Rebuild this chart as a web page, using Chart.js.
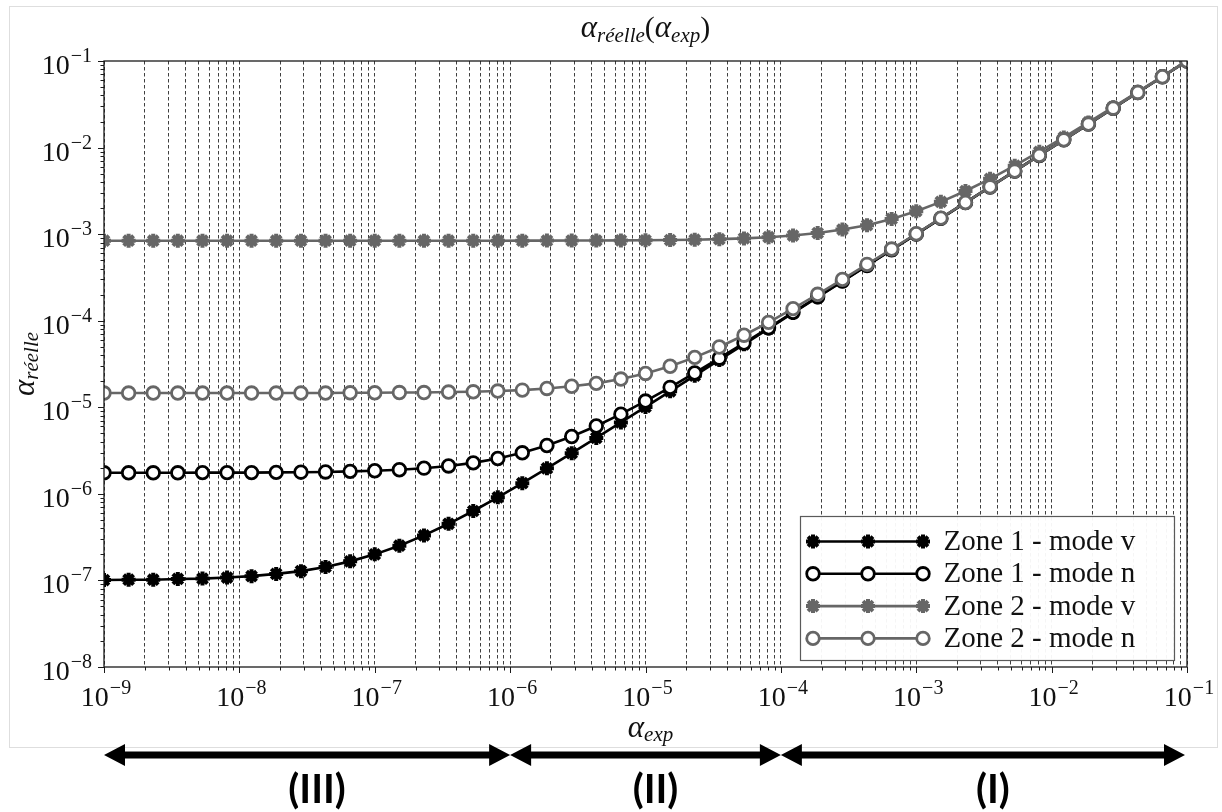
<!DOCTYPE html>
<html>
<head>
<meta charset="utf-8">
<script src="https://cdn.jsdelivr.net/npm/chart.js@4.4.0/dist/chart.umd.min.js"></script>
<style>
  html, body { margin: 0; padding: 0; background: #fff; }
  #wrap { width: 1222px; height: 812px; }
</style>
</head>
<body>
<div id="wrap"><canvas id="alphaChart" width="1222" height="812"></canvas></div>
<script>
// alpha_exp (x) - log spaced sample points
const alphaExp = [
  1e-9, 1.52e-9, 2.31e-9, 3.51e-9, 5.34e-9, 8.11e-9,
  1.23e-8, 1.87e-8, 2.85e-8, 4.33e-8, 6.58e-8,
  1e-7, 1.52e-7, 2.31e-7, 3.51e-7, 5.34e-7, 8.11e-7,
  1.23e-6, 1.87e-6, 2.85e-6, 4.33e-6, 6.58e-6,
  1e-5, 1.52e-5, 2.31e-5, 3.51e-5, 5.34e-5, 8.11e-5,
  1.23e-4, 1.87e-4, 2.85e-4, 4.33e-4, 6.58e-4,
  1e-3, 1.52e-3, 2.31e-3, 3.51e-3, 5.34e-3, 8.11e-3,
  1.23e-2, 1.87e-2, 2.85e-2, 4.33e-2, 6.58e-2,
  1e-1
];

// alpha_reelle for each curve
const zone1ModeV = [
  1.01e-7, 1.02e-7, 1.02e-7, 1.04e-7, 1.05e-7, 1.08e-7,
  1.12e-7, 1.19e-7, 1.28e-7, 1.43e-7, 1.66e-7,
  2.0e-7, 2.52e-7, 3.31e-7, 4.51e-7, 6.34e-7, 9.11e-7,
  1.33e-6, 1.97e-6, 2.95e-6, 4.43e-6, 6.68e-6,
  1.01e-5, 1.53e-5, 2.32e-5, 3.52e-5, 5.34e-5, 8.11e-5,
  1.23e-4, 1.87e-4, 2.85e-4, 4.33e-4, 6.58e-4,
  1e-3, 1.52e-3, 2.31e-3, 3.51e-3, 5.34e-3, 8.11e-3,
  1.23e-2, 1.87e-2, 2.85e-2, 4.33e-2, 6.58e-2,
  1e-1
];
const zone1ModeN = [
  1.75e-6, 1.75e-6, 1.75e-6, 1.75e-6, 1.76e-6, 1.76e-6,
  1.76e-6, 1.77e-6, 1.78e-6, 1.79e-6, 1.82e-6,
  1.85e-6, 1.90e-6, 1.98e-6, 2.10e-6, 2.28e-6, 2.56e-6,
  2.98e-6, 3.62e-6, 4.60e-6, 6.08e-6, 8.33e-6,
  1.18e-5, 1.70e-5, 2.49e-5, 3.69e-5, 5.52e-5, 8.29e-5,
  1.25e-4, 1.89e-4, 2.87e-4, 4.35e-4, 6.60e-4,
  1.00e-3, 1.52e-3, 2.31e-3, 3.51e-3, 5.34e-3, 8.11e-3,
  1.23e-2, 1.87e-2, 2.85e-2, 4.33e-2, 6.58e-2,
  1e-1
];
const zone2ModeV = [
  8.4e-4, 8.4e-4, 8.4e-4, 8.4e-4, 8.4e-4, 8.4e-4,
  8.4e-4, 8.4e-4, 8.4e-4, 8.4e-4, 8.4e-4,
  8.4e-4, 8.4e-4, 8.4e-4, 8.4e-4, 8.4e-4, 8.4e-4,
  8.41e-4, 8.42e-4, 8.43e-4, 8.44e-4, 8.47e-4,
  8.50e-4, 8.55e-4, 8.63e-4, 8.75e-4, 8.93e-4, 9.21e-4,
  9.63e-4, 1.03e-3, 1.13e-3, 1.27e-3, 1.50e-3,
  1.84e-3, 2.36e-3, 3.15e-3, 4.35e-3, 6.18e-3, 8.95e-3,
  1.31e-2, 1.95e-2, 2.93e-2, 4.41e-2, 6.66e-2,
  1.01e-1
];
const zone2ModeN = [
  1.46e-5, 1.46e-5, 1.46e-5, 1.46e-5, 1.46e-5, 1.46e-5,
  1.46e-5, 1.46e-5, 1.46e-5, 1.46e-5, 1.47e-5,
  1.47e-5, 1.48e-5, 1.48e-5, 1.50e-5, 1.51e-5, 1.54e-5,
  1.58e-5, 1.65e-5, 1.75e-5, 1.89e-5, 2.12e-5,
  2.46e-5, 2.98e-5, 3.77e-5, 4.97e-5, 6.80e-5, 9.57e-5,
  1.38e-4, 2.02e-4, 3.00e-4, 4.48e-4, 6.73e-4,
  1.01e-3, 1.53e-3, 2.32e-3, 3.52e-3, 5.35e-3, 8.12e-3,
  1.23e-2, 1.87e-2, 2.85e-2, 4.33e-2, 6.58e-2,
  1e-1
];

const seriesLabels = ["Zone 1 - mode v", "Zone 1 - mode n", "Zone 2 - mode v", "Zone 2 - mode n"];
const xTickExps = [-9, -8, -7, -6, -5, -4, -3, -2, -1];
const yTickExps = [-8, -7, -6, -5, -4, -3, -2, -1];
const zoneBounds = [1e-9, 1e-6, 1e-4, 1e-1];
const zoneLabels = ["(III)", "(II)", "(I)"];

const BLACK = '#000000';
const GREY = '#666666';
const SERIF = '"Liberation Serif", "DejaVu Serif", serif';

// all 1..9 x 10^n positions, used for dashed grid and minor ticks
function logPositions(exps) {
  const out = [];
  exps.forEach((e, i) => {
    out.push({ value: Math.pow(10, e), major: true });
    if (i < exps.length - 1) {
      for (let m = 2; m <= 9; m++) out.push({ value: m * Math.pow(10, e), major: false });
    }
  });
  return out;
}
const xPositions = logPositions(xTickExps);
const yPositions = logPositions(yTickExps);

function toPoints(ys) {
  return alphaExp.map((x, i) => ({ x: x, y: ys[i] }));
}

function makeDataset(label, ys, color, star, order) {
  return {
    label: label,
    data: toPoints(ys),
    borderColor: color,
    borderWidth: 2.6,
    pointStyle: star ? 'star' : 'circle',
    pointRadius: star ? 7 : 6.3,
    pointBorderWidth: star ? 4 : 2.8,
    pointBorderColor: color,
    pointBackgroundColor: star ? color : '#ffffff',
    tension: 0,
    clip: 0,
    order: order
  };
}

function drawPow10(ctx, exp, x, y, align) {
  const base = '10';
  const sup = '\u2212' + Math.abs(exp);
  ctx.font = '28px ' + SERIF;
  const bw = ctx.measureText(base).width;
  ctx.font = '20px ' + SERIF;
  const sw = ctx.measureText(sup).width;
  const w = bw + 1 + sw;
  const left = align === 'center' ? x - w / 2 : x - w;
  ctx.textAlign = 'left';
  ctx.textBaseline = 'alphabetic';
  ctx.font = '28px ' + SERIF;
  ctx.fillText(base, left, y);
  ctx.font = '20px ' + SERIF;
  ctx.fillText(sup, left + bw + 1, y - 12);
}

// draws a run of text pieces (main / subscript) centred on cx
function drawMath(ctx, parts, cx, y) {
  let total = 0;
  parts.forEach(p => {
    ctx.font = (p.italic ? 'italic ' : '') + p.size + 'px ' + SERIF;
    p.w = ctx.measureText(p.t).width;
    total += p.w;
  });
  let x = cx - total / 2;
  ctx.textAlign = 'left';
  ctx.textBaseline = 'alphabetic';
  parts.forEach(p => {
    ctx.font = (p.italic ? 'italic ' : '') + p.size + 'px ' + SERIF;
    ctx.fillText(p.t, x, y + (p.dy || 0));
    x += p.w;
  });
}

function drawMarker(ctx, ds, x, y) {
  ctx.save();
  ctx.lineWidth = ds.pointBorderWidth;
  ctx.strokeStyle = ds.pointBorderColor;
  ctx.fillStyle = ds.pointBackgroundColor;
  const r = ds.pointRadius;
  ctx.beginPath();
  if (ds.pointStyle === 'star') {
    for (let k = 0; k < 4; k++) {
      const a = k * Math.PI / 4;
      ctx.moveTo(x - r * Math.cos(a), y - r * Math.sin(a));
      ctx.lineTo(x + r * Math.cos(a), y + r * Math.sin(a));
    }
    ctx.stroke();
  } else {
    ctx.arc(x, y, r, 0, Math.PI * 2);
    ctx.fill();
    ctx.stroke();
  }
  ctx.restore();
}

function drawArrow(ctx, x1, x2, y) {
  const head = 21, half = 11;
  ctx.beginPath();
  ctx.lineWidth = 7;
  ctx.moveTo(x1 + head - 2, y);
  ctx.lineTo(x2 - head + 2, y);
  ctx.stroke();
  ctx.beginPath();
  ctx.moveTo(x1, y);
  ctx.lineTo(x1 + head, y - half);
  ctx.lineTo(x1 + head, y + half);
  ctx.closePath();
  ctx.moveTo(x2, y);
  ctx.lineTo(x2 - head, y - half);
  ctx.lineTo(x2 - head, y + half);
  ctx.closePath();
  ctx.fill();
}

const decorPlugin = {
  id: 'decor',
  beforeDraw(chart) {
    const ctx = chart.ctx;
    ctx.save();
    ctx.fillStyle = '#ffffff';
    ctx.fillRect(0, 0, chart.width, chart.height);
    ctx.strokeStyle = '#dedede';
    ctx.lineWidth = 1;
    ctx.strokeRect(9.5, 6.5, 1208, 741);
    ctx.restore();
  },
  afterDraw(chart) {
    const ctx = chart.ctx;
    const area = chart.chartArea;
    const xs = chart.scales.x;
    const ys = chart.scales.y;
    ctx.save();

    // frame
    ctx.strokeStyle = '#1a1a1a';
    ctx.lineWidth = 1.3;
    ctx.strokeRect(area.left, area.top, area.right - area.left, area.bottom - area.top);

    // tick marks
    ctx.lineWidth = 1;
    ctx.beginPath();
    xPositions.forEach(t => {
      const px = Math.round(xs.getPixelForValue(t.value)) + 0.5;
      ctx.moveTo(px, area.bottom);
      ctx.lineTo(px, area.bottom + (t.major ? 6 : 3.5));
    });
    yPositions.forEach(t => {
      const py = Math.round(ys.getPixelForValue(t.value)) + 0.5;
      ctx.moveTo(area.left, py);
      ctx.lineTo(area.left - (t.major ? 6 : 3.5), py);
    });
    ctx.stroke();

    // tick labels
    ctx.fillStyle = '#111';
    xTickExps.forEach(e => {
      drawPow10(ctx, e, xs.getPixelForValue(Math.pow(10, e)) + 2, area.bottom + 39, 'center');
    });
    yTickExps.forEach(e => {
      drawPow10(ctx, e, area.left - 12, ys.getPixelForValue(Math.pow(10, e)) + 13, 'right');
    });

    const cx = (area.left + area.right) / 2;
    // title
    drawMath(ctx, [
      { t: '\u03b1', size: 31, italic: true },
      { t: 'r\u00e9elle', size: 21, italic: true, dy: 5 },
      { t: '(', size: 30 },
      { t: '\u03b1', size: 31, italic: true },
      { t: 'exp', size: 21, italic: true, dy: 5 },
      { t: ')', size: 30 }
    ], cx, 37);
    // x axis title
    drawMath(ctx, [
      { t: '\u03b1', size: 31, italic: true },
      { t: 'exp', size: 21, italic: true, dy: 4 }
    ], cx + 5, area.bottom + 70);
    // y axis title
    ctx.save();
    ctx.translate(21, (area.top + area.bottom) / 2);
    ctx.rotate(-Math.PI / 2);
    drawMath(ctx, [
      { t: '\u03b1', size: 31, italic: true },
      { t: 'r\u00e9elle', size: 21, italic: true, dy: 4 }
    ], 0, 13);
    ctx.restore();

    // legend
    const lg = { x: 800.5, y: 516.5, w: 374, h: 144 };
    ctx.fillStyle = 'rgba(255,255,255,0.95)';
    ctx.fillRect(lg.x, lg.y, lg.w, lg.h);
    ctx.strokeStyle = '#5a5a5a';
    ctx.lineWidth = 1.2;
    ctx.strokeRect(lg.x, lg.y, lg.w, lg.h);
    chart.data.datasets.forEach((ds, i) => {
      const ry = lg.y + 25 + i * 32.3;
      ctx.strokeStyle = ds.borderColor;
      ctx.lineWidth = ds.borderWidth;
      ctx.beginPath();
      ctx.moveTo(lg.x + 12.5, ry);
      ctx.lineTo(lg.x + 122.5, ry);
      ctx.stroke();
      [12.5, 67.5, 122.5].forEach(dx => drawMarker(ctx, ds, lg.x + dx, ry));
      ctx.fillStyle = '#111';
      ctx.font = '29px ' + SERIF;
      ctx.textAlign = 'left';
      ctx.textBaseline = 'middle';
      ctx.fillText(ds.label, lg.x + 143, ry + 1);
    });

    // zone arrows
    ctx.fillStyle = '#000';
    ctx.strokeStyle = '#000';
    const ay = 755;
    for (let z = 0; z < zoneLabels.length; z++) {
      const x1 = xs.getPixelForValue(zoneBounds[z]);
      const x2 = xs.getPixelForValue(zoneBounds[z + 1]) - (z === zoneLabels.length - 1 ? 2 : 0);
      drawArrow(ctx, x1, x2, ay);
      ctx.font = 'bold 40px Lato, "Open Sans", sans-serif';
      ctx.textAlign = 'center';
      ctx.textBaseline = 'alphabetic';
      ctx.fillText(zoneLabels[z], (x1 + x2) / 2 + 10, 803);
    }
    ctx.restore();
  }
};

const ctx = document.getElementById('alphaChart').getContext('2d');
const alphaChart = new Chart(ctx, {
  type: 'line',
  data: {
    datasets: [
      makeDataset(seriesLabels[0], zone1ModeV, BLACK, true, 3),
      makeDataset(seriesLabels[1], zone1ModeN, BLACK, false, 2),
      makeDataset(seriesLabels[2], zone2ModeV, GREY, true, 1),
      makeDataset(seriesLabels[3], zone2ModeN, GREY, false, 0)
    ]
  },
  options: {
    responsive: false,
    devicePixelRatio: 1,
    animation: false,
    events: [],
    layout: { padding: { left: 104, top: 61, right: 35, bottom: 145 } },
    plugins: {
      legend: { display: false },
      title: { display: false },
      tooltip: { enabled: false }
    },
    scales: {
      x: {
        type: 'logarithmic',
        min: 1e-9,
        max: 1e-1,
        afterBuildTicks: (scale) => {
          scale.ticks = xPositions.map(t => ({ value: t.value }));
        },
        ticks: { display: false },
        grid: { color: 'rgba(0,0,0,0.75)', lineWidth: 1, drawTicks: false },
        border: { display: false, dash: [3.5, 2.5] }
      },
      y: {
        type: 'logarithmic',
        min: 1e-8,
        max: 1e-1,
        ticks: { display: false },
        grid: { display: false, drawTicks: false },
        border: { display: false }
      }
    }
  },
  plugins: [decorPlugin]
});
</script>
</body>
</html>
